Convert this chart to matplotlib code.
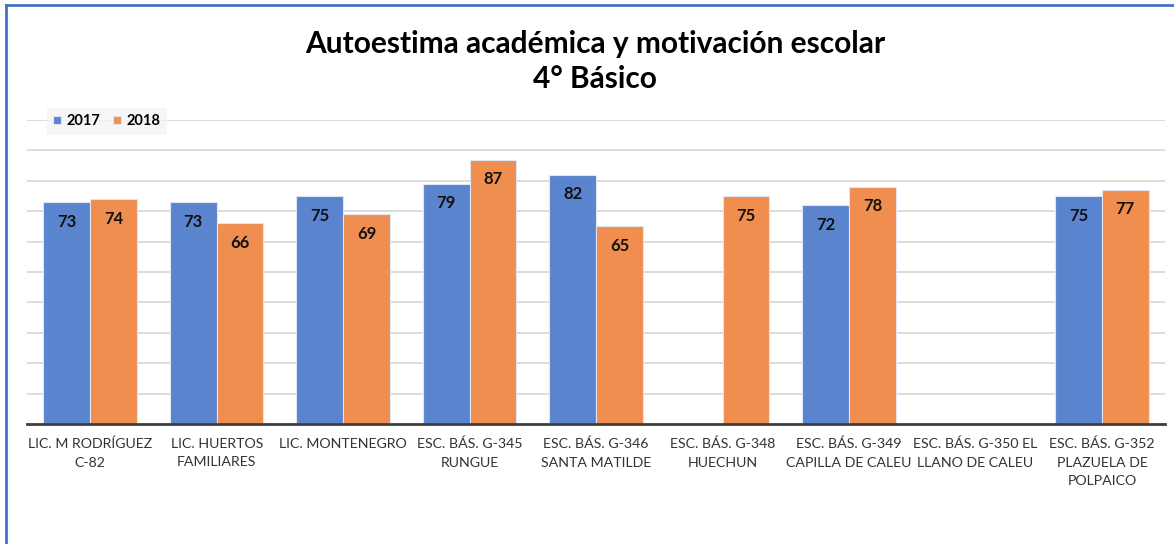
import numpy as np
import matplotlib
matplotlib.use("Agg")
import matplotlib.pyplot as plt
from matplotlib.lines import Line2D

plt.rcParams['font.family'] = ['Lato', 'DejaVu Sans']

categories = [
    "LIC. M RODRÍGUEZ\nC-82",
    "LIC. HUERTOS\nFAMILIARES",
    "LIC. MONTENEGRO",
    "ESC. BÁS. G-345\nRUNGUE",
    "ESC. BÁS. G-346\nSANTA MATILDE",
    "ESC. BÁS. G-348\nHUECHUN",
    "ESC. BÁS. G-349\nCAPILLA DE CALEU",
    "ESC. BÁS. G-350 EL\nLLANO DE CALEU",
    "ESC. BÁS. G-352\nPLAZUELA DE\nPOLPAICO",
]
series_names = ["2017", "2018"]
vals_2017 = [73, 73, 75, 79, 82, np.nan, 72, np.nan, 75]
vals_2018 = [74, 66, 69, 87, 65, 75, 78, np.nan, 77]

BLUE = "#5b84cf"
ORANGE = "#ef8e4f"

fig = plt.figure(figsize=(11.74, 5.44), dpi=100)
ax = fig.add_axes([0.023, 0.2206, 0.9695, 0.5588])

x = np.arange(len(categories))
wd = 0.37
for vals, off, col, name in [(vals_2017, -wd / 2, BLUE, series_names[0]),
                             (vals_2018, wd / 2, ORANGE, series_names[1])]:
    v = np.array(vals, float)
    ok = ~np.isnan(v)
    ax.bar(x[ok] + off, v[ok], wd, color=col, edgecolor="#dfe6f3", linewidth=0.8,
           label=name, zorder=3)
    for xi, yi in zip(x[ok] + off, v[ok]):
        ax.text(xi, yi - 3.8, f"{yi:.0f}", ha="center", va="top", fontsize=12,
                fontweight="bold", color="#111111", zorder=4)

ax.set_xlim(-0.5, len(categories) - 0.5)
ax.set_ylim(0, 100)
ax.set_yticks(np.arange(0, 101, 10))
ax.set_yticklabels([])
ax.tick_params(axis="y", length=0)
ax.tick_params(axis="x", length=0, pad=10)
ax.grid(True, axis="y", color="#d9d9d9", linewidth=1.3, zorder=0)
for s in ("top", "right", "left"):
    ax.spines[s].set_visible(False)
ax.spines["bottom"].set_color("#404040")
ax.spines["bottom"].set_linewidth(2)
ax.spines["bottom"].set_zorder(5)
ax.set_xticks(x)
ax.set_xticklabels(categories, fontsize=10.2, color="#333333", linespacing=1.65)

leg = ax.legend(loc="upper left", bbox_to_anchor=(0.011, 1.065), ncol=2, frameon=True,
                prop={"weight": "bold", "size": 10.5}, handlelength=0.55, handleheight=0.55,
                handletextpad=0.35, columnspacing=0.9, borderpad=0.45, fancybox=False)
leg.get_frame().set_facecolor("#f4f4f4")
leg.get_frame().set_edgecolor("none")

fig.text(0.507, 0.945, "Autoestima académica y motivación escolar\n4° Básico",
         ha="center", va="top", fontsize=21.5, fontweight="bold", color="#000000",
         linespacing=1.3)

# blue chart border (left and top edges)
fig.add_artist(Line2D([0.005, 0.005], [0, 0.99], transform=fig.transFigure,
                      color="#4472c4", linewidth=2))
fig.add_artist(Line2D([0.005, 1], [0.99, 0.99], transform=fig.transFigure,
                      color="#4472c4", linewidth=2))

fig.savefig("out.png", dpi=100)
